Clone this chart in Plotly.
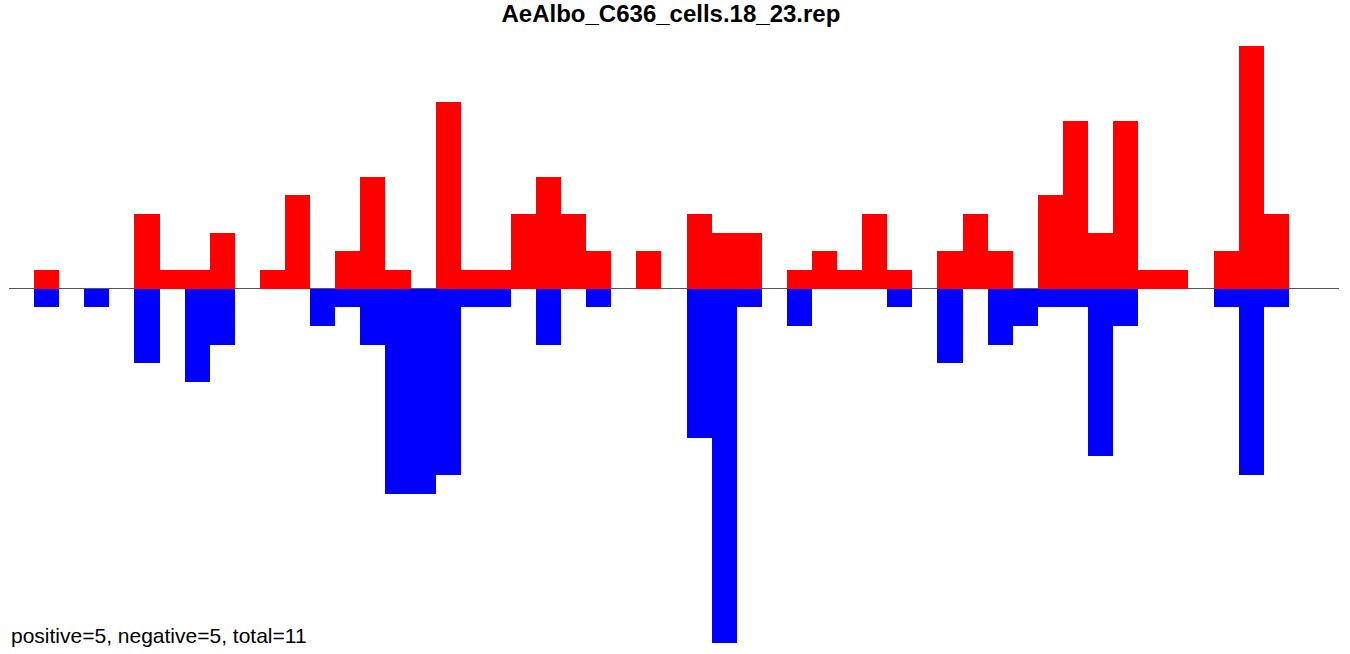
import plotly.graph_objects as go

# Bin positions (1..50) along the track
positions = [1, 2, 3, 4, 5, 6, 7, 8, 9, 10,
             11, 12, 13, 14, 15, 16, 17, 18, 19, 20,
             21, 22, 23, 24, 25, 26, 27, 28, 29, 30,
             31, 32, 33, 34, 35, 36, 37, 38, 39, 40,
             41, 42, 43, 44, 45, 46, 47, 48, 49, 50]

# Positive-strand counts (red, drawn upward)
positive_counts = [1, 0, 0, 0, 4, 1, 1, 3, 0, 1,
                   5, 0, 2, 6, 1, 0, 10, 1, 1, 4,
                   6, 4, 2, 0, 2, 0, 4, 3, 3, 0,
                   1, 2, 1, 4, 1, 0, 2, 4, 2, 0,
                   5, 9, 3, 9, 1, 1, 0, 2, 13, 4]

# Negative-strand counts (blue, drawn downward)
negative_counts = [1, 0, 1, 0, 4, 0, 5, 3, 0, 0,
                   0, 2, 1, 3, 11, 11, 10, 1, 1, 0,
                   3, 0, 1, 0, 0, 0, 8, 19, 1, 0,
                   2, 0, 0, 0, 1, 0, 4, 0, 3, 2,
                   1, 1, 9, 2, 0, 0, 0, 1, 10, 1]

title_text = "AeAlbo_C636_cells.18_23.rep"
summary_text = "positive=5, negative=5, total=11"

fig = go.Figure()
fig.add_trace(go.Bar(
    x=positions, y=positive_counts, width=1, offset=0,
    marker=dict(color="#FF0000", line=dict(width=0)),
    showlegend=False, hoverinfo="x+y",
))
fig.add_trace(go.Bar(
    x=positions, y=[-v for v in negative_counts], width=1, offset=0,
    marker=dict(color="#0000FF", line=dict(width=0)),
    showlegend=False, hoverinfo="x+y",
))

fig.update_layout(
    width=1350, height=654,
    barmode="overlay",
    bargap=0,
    plot_bgcolor="white",
    paper_bgcolor="white",
    margin=dict(l=9, r=11, t=30, b=0),
    font=dict(family="Liberation Sans, Arial, sans-serif", color="black"),
    title=dict(
        text="<b>" + title_text + "</b>",
        x=0.497, xanchor="center", xref="container",
        y=1 - 14 / 654, yanchor="middle", yref="container",
        font=dict(size=24, family="Liberation Sans, Arial, sans-serif", color="black"),
    ),
    xaxis=dict(
        range=[0, 53], showgrid=False, zeroline=False, showline=False,
        showticklabels=False, ticks="",
    ),
    yaxis=dict(
        range=[-19.59, 13.86], showgrid=False, zeroline=True,
        zerolinecolor="#555555", zerolinewidth=1, showline=False,
        showticklabels=False, ticks="",
    ),
    annotations=[dict(
        text=summary_text, xref="paper", yref="paper", x=0, y=0,
        xanchor="left", yanchor="middle", yshift=19, showarrow=False,
        font=dict(size=21, family="Liberation Sans, Arial, sans-serif", color="black"),
    )],
)

fig.write_html(
    "out.html",
    config={"displayModeBar": False},
    post_script="document.body.style.margin='0';",
)
